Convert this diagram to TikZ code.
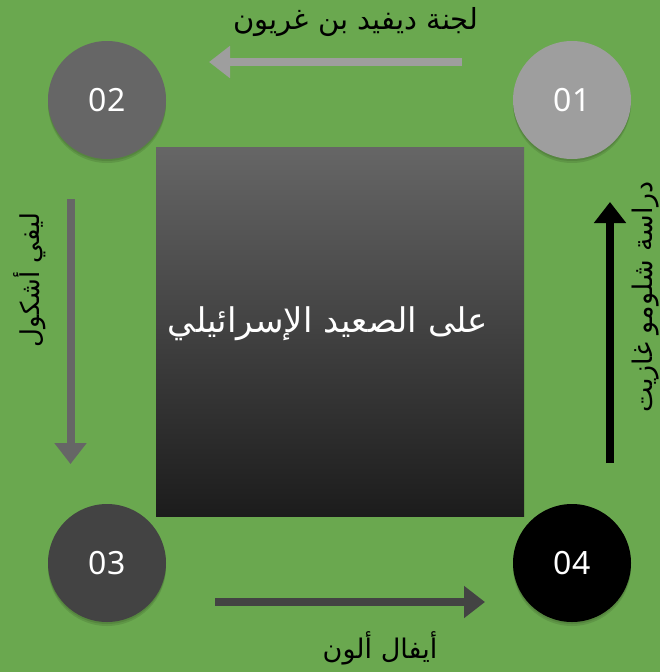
\documentclass[tikz,border=0pt]{standalone}
\usepackage{fontspec}
\setmainfont{Noto Sans}
\newfontfamily\arabicfont[Script=Arabic]{DejaVu Sans}
\TeXXeTstate=1
\usetikzlibrary{arrows.meta}

\definecolor{bggreen}{HTML}{6AA84F}
\definecolor{grayA}{HTML}{9E9E9E}
\definecolor{grayB}{HTML}{666666}
\definecolor{grayC}{HTML}{434343}
\definecolor{boxtop}{HTML}{666666}
\definecolor{boxbot}{HTML}{1C1C1C}

\tikzset{
  stepdot/.style={circle, minimum size=118pt, inner sep=0pt, text=white,
    font=\fontsize{32}{32}\selectfont,
    preaction={fill=black, opacity=0.10, transform canvas={yshift=-4pt}},
    preaction={fill=black, opacity=0.10, transform canvas={yshift=-2pt}}},
  bigarrow/.style={line width=8pt, -{Triangle[width=31pt,length=21pt]}},
  arlabel/.style={inner sep=0pt, text=black, font=\arabicfont\fontsize{#1}{#1}\selectfont},
  arlabel/.default=28,
}

\begin{document}
\begin{tikzpicture}[x=1pt,y=-1pt]
  % background
  \fill[bggreen] (0,0) rectangle (660,672);
  \useasboundingbox (0,0) rectangle (660,672);

  % central shaded square and its title
  \node[minimum width=368pt, minimum height=369pt, inner sep=0pt,
        top color=boxtop, bottom color=boxbot] (box) at (340,331.5) {};
  \node[inner sep=0pt, text=white, font=\arabicfont\fontsize{34}{34}\selectfont]
        (title) at (328,324) {\beginR على الصعيد الإسرائيلي\endR};

  % step circles
  \node[stepdot, fill=grayA] (c1) at (572,100) {01};
  \node[stepdot, fill=grayB] (c2) at (107,100) {02};
  \node[stepdot, fill=grayC] (c3) at (107,563) {03};
  \node[stepdot, fill=black] (c4) at (572,563) {04};

  % arrow end points
  \coordinate (a1s) at (462,62);   \coordinate (a1e) at (209,62);
  \coordinate (a2s) at (70.5,199); \coordinate (a2e) at (70.5,464);
  \coordinate (a3s) at (215,602);  \coordinate (a3e) at (485,602);
  \coordinate (a4s) at (610,463);  \coordinate (a4e) at (610,202);

  \draw[bigarrow, grayA] (a1s) -- (a1e);
  \draw[bigarrow, grayB] (a2s) -- (a2e);
  \draw[bigarrow, grayC] (a3s) -- (a3e);
  \draw[bigarrow, black] (a4s) -- (a4e);

  % arrow labels
  \node[arlabel=29] (l1) at (356,22) {\beginR لجنة ديفيد بن غريون\endR};
  \node[arlabel=26, rotate=90] (l2) at (30,280) {\beginR ليفي أشكول\endR};
  \node[arlabel=27] (l3) at (380,648) {\beginR أيفال ألون\endR};
  \node[arlabel=27, rotate=90] (l4) at (646,297) {\beginR دراسة شلومو غازيت\endR};
\end{tikzpicture}
\end{document}
